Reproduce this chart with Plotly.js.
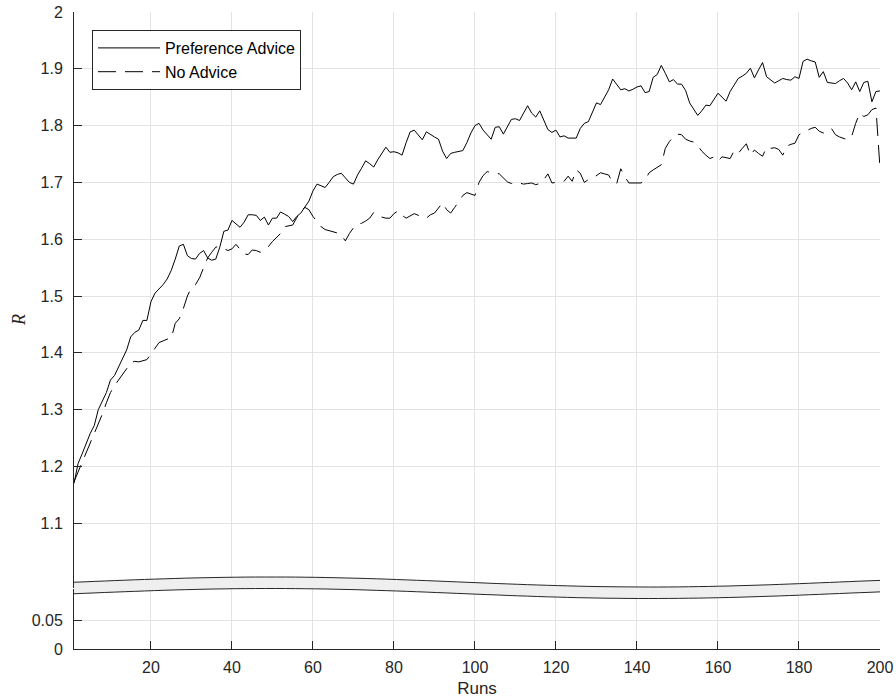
<!DOCTYPE html>
<html>
<head>
<meta charset="utf-8">
<script src="https://cdn.plot.ly/plotly-3.0.1.min.js"></script>
<style>
  html, body { margin: 0; padding: 0; background: #fff; }
  #chart { width: 896px; height: 700px; }
</style>
</head>
<body>
<div id="chart"></div>
<script>
// Mean return R per run, 200 runs
const runs = Array.from({length: 200}, (_, i) => i + 1);

const preferenceAdvice = [
  1.170, 1.205, 1.222, 1.240, 1.258, 1.272, 1.300, 1.315, 1.330, 1.352,
  1.360, 1.375, 1.390, 1.405, 1.428, 1.436, 1.440, 1.457, 1.457, 1.490,
  1.505, 1.512, 1.520, 1.530, 1.545, 1.565, 1.588, 1.591, 1.571, 1.566,
  1.565, 1.575, 1.580, 1.567, 1.563, 1.565, 1.586, 1.614, 1.616, 1.633,
  1.627, 1.621, 1.630, 1.643, 1.643, 1.642, 1.633, 1.639, 1.625, 1.637,
  1.637, 1.648, 1.644, 1.640, 1.631, 1.640, 1.646, 1.656, 1.667, 1.685,
  1.697, 1.694, 1.691, 1.700, 1.710, 1.714, 1.716, 1.708, 1.700, 1.697,
  1.713, 1.725, 1.738, 1.733, 1.727, 1.740, 1.752, 1.762, 1.753, 1.754,
  1.752, 1.748, 1.770, 1.789, 1.792, 1.783, 1.775, 1.789, 1.784, 1.780,
  1.776, 1.755, 1.742, 1.751, 1.753, 1.755, 1.756, 1.770, 1.787, 1.800,
  1.804, 1.792, 1.783, 1.776, 1.797, 1.798, 1.785, 1.798, 1.811, 1.812,
  1.809, 1.822, 1.835, 1.822, 1.815, 1.826, 1.810, 1.793, 1.788, 1.792,
  1.780, 1.782, 1.778, 1.778, 1.778, 1.795, 1.804, 1.807, 1.825, 1.840,
  1.837, 1.850, 1.863, 1.882, 1.872, 1.863, 1.865, 1.861, 1.864, 1.868,
  1.870, 1.858, 1.860, 1.885, 1.890, 1.906, 1.892, 1.877, 1.881, 1.873,
  1.873, 1.862, 1.840, 1.829, 1.818, 1.826, 1.836, 1.835, 1.845, 1.857,
  1.850, 1.843, 1.860, 1.872, 1.883, 1.887, 1.892, 1.901, 1.884, 1.898,
  1.911, 1.886, 1.880, 1.875, 1.879, 1.883, 1.881, 1.880, 1.886, 1.883,
  1.913, 1.917, 1.914, 1.912, 1.885, 1.895, 1.876, 1.875, 1.874, 1.879,
  1.883, 1.875, 1.863, 1.877, 1.860, 1.876, 1.878, 1.842, 1.860, 1.861
];

const noAdvice = [
  1.173, 1.190, 1.205, 1.225, 1.240, 1.258, 1.275, 1.292, 1.312, 1.330,
  1.342, 1.352, 1.360, 1.372, 1.383, 1.385, 1.384, 1.386, 1.388, 1.398,
  1.408, 1.418, 1.421, 1.424, 1.425, 1.452, 1.460, 1.478, 1.500, 1.515,
  1.520, 1.532, 1.550, 1.567, 1.577, 1.586, 1.587, 1.584, 1.580, 1.583,
  1.591, 1.582, 1.574, 1.573, 1.581, 1.580, 1.577, 1.580, 1.587, 1.596,
  1.603, 1.610, 1.622, 1.623, 1.625, 1.638, 1.650, 1.656, 1.652, 1.640,
  1.630, 1.622, 1.617, 1.615, 1.613, 1.611, 1.607, 1.597, 1.610, 1.620,
  1.627, 1.628, 1.632, 1.637, 1.647, 1.641, 1.639, 1.637, 1.637, 1.645,
  1.650, 1.642, 1.637, 1.641, 1.645, 1.642, 1.638, 1.637, 1.643, 1.646,
  1.655, 1.664, 1.652, 1.646, 1.656, 1.666, 1.677, 1.682, 1.679, 1.677,
  1.700, 1.712, 1.719, 1.717, 1.716, 1.715, 1.708, 1.701, 1.698, 1.700,
  1.699, 1.697, 1.698, 1.699, 1.696, 1.698, 1.705, 1.715, 1.699, 1.700,
  1.701, 1.702, 1.711, 1.702, 1.722, 1.716, 1.700, 1.705, 1.707, 1.712,
  1.717, 1.715, 1.713, 1.700, 1.698, 1.724, 1.710, 1.699, 1.699, 1.698,
  1.699, 1.704, 1.717, 1.722, 1.727, 1.731, 1.760, 1.772, 1.780, 1.785,
  1.784, 1.776, 1.773, 1.771, 1.765, 1.755, 1.748, 1.742, 1.745, 1.738,
  1.745, 1.744, 1.742, 1.756, 1.751, 1.760, 1.768, 1.748, 1.757, 1.751,
  1.746, 1.762, 1.760, 1.761, 1.758, 1.748, 1.764, 1.767, 1.769, 1.784,
  1.788, 1.792, 1.795, 1.797, 1.790, 1.787, 1.790, 1.795, 1.784, 1.780,
  1.777, 1.775, 1.781, 1.804, 1.822, 1.816, 1.819, 1.828, 1.831, 1.725
];

const xTicks = [20, 40, 60, 80, 100, 120, 140, 160, 180, 200];
const upperTicks = [1.1, 1.2, 1.3, 1.4, 1.5, 1.6, 1.7, 1.8, 1.9, 2.0];
const upperTickText = ['1.1', '1.2', '1.3', '1.4', '1.5', '1.6', '1.7', '1.8', '1.9', '2'];
const lowerTicks = [0, 0.05];
const lowerTickText = ['0', '0.05'];

const INK = '#262626';
const GRID = '#e3e3e3';
const FONT = 'Liberation Sans, Arial, Helvetica, sans-serif';

// Page geometry (px) of the plotting area
const W = 896, H = 700;
const M = {l: 74, r: 16, t: 12, b: 51};
const plotW = W - M.l - M.r;
const plotH = H - M.t - M.b;
const pxPerUnit = 568;           // vertical scale shared by both axis segments
const lowerTop = 0.094;          // paper fraction where the lower segment ends
const upperBottom = 0.096;       // paper fraction where the upper segment starts

// Wavy break ribbon drawn across the gap between the two y segments
function breakPaths() {
  const n = 80;
  const top = [], bot = [];
  for (let i = 0; i <= n; i++) {
    const f = i / n;
    const px = M.l + plotW * f;
    const yTop = 582 - 5 * Math.cos(2 * Math.PI * (px - 270) / 760);
    const yBot = yTop + 11.5;
    top.push([f, (H - M.b - yTop) / plotH]);
    bot.push([f, (H - M.b - yBot) / plotH]);
  }
  const line = pts => pts.map((p, i) => (i ? 'L' : 'M') + p[0].toFixed(4) + ',' + p[1].toFixed(4)).join(' ');
  const fill = line(top) + ' ' + bot.slice().reverse().map(p => 'L' + p[0].toFixed(4) + ',' + p[1].toFixed(4)).join(' ') + ' Z';
  return {top: line(top), bot: line(bot), fill};
}
const br = breakPaths();

const traces = [
  {
    x: runs, y: preferenceAdvice, name: 'Preference Advice',
    type: 'scatter', mode: 'lines', xaxis: 'x', yaxis: 'y',
    line: {color: '#000', width: 1}
  },
  {
    x: runs, y: noAdvice, name: 'No Advice',
    type: 'scatter', mode: 'lines', xaxis: 'x', yaxis: 'y',
    line: {color: '#000', width: 1, dash: '18px,9px'}
  },
  {
    x: [], y: [], xaxis: 'x', yaxis: 'y2', type: 'scatter', mode: 'lines',
    showlegend: false, hoverinfo: 'skip'
  }
];

const axisCommon = {
  showline: true, linecolor: INK, linewidth: 1,
  ticks: 'inside', ticklen: 8, tickwidth: 1, tickcolor: INK,
  showgrid: true, gridcolor: GRID, gridwidth: 1,
  zeroline: false, mirror: false,
  tickfont: {family: FONT, size: 16, color: INK}
};

const layout = {
  width: W, height: H,
  margin: M,
  paper_bgcolor: '#fff', plot_bgcolor: '#fff',
  font: {family: FONT, color: INK},
  showlegend: true,
  legend: {
    x: (92 - M.l) / plotW, y: (H - M.b - 30) / plotH,
    xanchor: 'left', yanchor: 'top',
    bgcolor: '#fff', bordercolor: INK, borderwidth: 1,
    font: {family: FONT, size: 16, color: '#000'},
    itemwidth: 62, tracegroupgap: 0
  },
  xaxis: Object.assign({}, axisCommon, {
    domain: [0, 1], anchor: 'y2', range: [1, 200],
    tickmode: 'array', tickvals: xTicks, ticklabelstandoff: 4,
    title: {text: 'Runs', font: {family: FONT, size: 17, color: INK}, standoff: 6}
  }),
  yaxis: Object.assign({}, axisCommon, {
    domain: [upperBottom, 1], anchor: 'x',
    range: [2 - (1 - upperBottom) * plotH / pxPerUnit, 2],
    tickmode: 'array', tickvals: upperTicks, ticktext: upperTickText,
    ticklabelstandoff: 7
  }),
  yaxis2: Object.assign({}, axisCommon, {
    domain: [0, lowerTop], anchor: 'x',
    range: [0, lowerTop * plotH / pxPerUnit],
    tickmode: 'array', tickvals: lowerTicks, ticktext: lowerTickText,
    ticklabelstandoff: 7
  }),
  shapes: [
    {type: 'path', xref: 'paper', yref: 'paper', path: br.fill, fillcolor: '#efefef', line: {width: 0}, layer: 'above'},
    {type: 'path', xref: 'paper', yref: 'paper', path: br.top, line: {color: INK, width: 1}, layer: 'above'},
    {type: 'path', xref: 'paper', yref: 'paper', path: br.bot, line: {color: INK, width: 1}, layer: 'above'}
  ],
  annotations: [
    {
      text: '<i>R</i>', xref: 'paper', yref: 'paper',
      x: (19 - M.l) / plotW, y: (H - M.b - 320) / plotH,
      xanchor: 'center', yanchor: 'middle', showarrow: false, textangle: -90,
      font: {family: 'Liberation Serif, Times New Roman, serif', size: 18, color: INK}
    }
  ]
};

Plotly.newPlot('chart', traces, layout, {displayModeBar: false, staticPlot: true});
</script>
</body>
</html>
